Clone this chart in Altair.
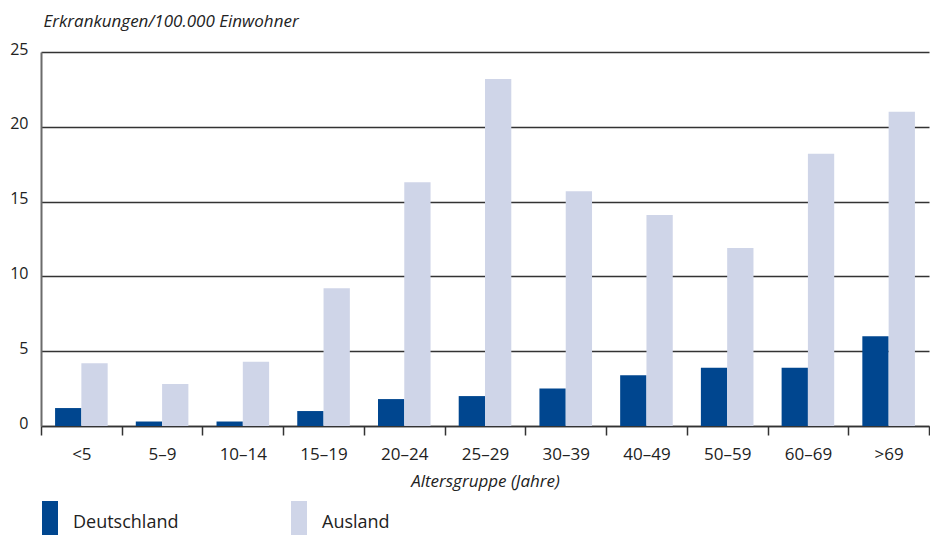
import altair as alt
import pandas as pd

groups = ["<5", "5–9", "10–14", "15–19", "20–24", "25–29", "30–39", "40–49", "50–59", "60–69", ">69"]
deutschland = [1.2, 0.3, 0.3, 1.0, 1.8, 2.0, 2.5, 3.4, 3.9, 3.9, 6.0]
ausland = [4.2, 2.8, 4.3, 9.2, 16.3, 23.2, 15.7, 14.1, 11.9, 18.2, 21.0]
series = ["Deutschland", "Ausland"]
colors = ["#00468f", "#cfd5e8"]
y_ticks = [0, 5, 10, 15, 20, 25]

rows = []
for g, d, a in zip(groups, deutschland, ausland):
    rows.append({"Gruppe": g, "Herkunft": "Deutschland", "Wert": d})
    rows.append({"Gruppe": g, "Herkunft": "Ausland", "Wert": a})
df = pd.DataFrame(rows)

FONT = "Open Sans"

chart = alt.Chart(df).mark_bar().encode(
    x=alt.X(
        "Gruppe:N", sort=groups,
        scale=alt.Scale(paddingInner=0, paddingOuter=0),
        axis=alt.Axis(
            title="Altersgruppe (Jahre)", tickBand="extent", labelAngle=0, grid=False,
            domainColor="#333333", domainWidth=1.5, tickColor="#333333", tickWidth=1.5,
            tickSize=9, labelPadding=11, labelFontSize=17, labelColor="#222222",
            labelFont=FONT, titleFont=FONT, titleFontSize=17, titleFontStyle="italic",
            titleFontWeight="normal", titleColor="#222222", titlePadding=11,
        ),
    ),
    xOffset=alt.XOffset("Herkunft:N", sort=series,
                        scale=alt.Scale(paddingInner=0, paddingOuter=0.535)),
    y=alt.Y(
        "Wert:Q", scale=alt.Scale(domain=[0, 25], nice=False),
        axis=alt.Axis(
            values=y_ticks, title="Erkrankungen/100.000 Einwohner", titleAngle=0,
            titleAlign="left", titleBaseline="alphabetic", titleX=2, titleY=-26,
            titleFont=FONT, titleFontSize=17, titleFontStyle="italic",
            titleFontWeight="normal", titleColor="#222222",
            grid=True, gridColor="#333333", gridWidth=1.3, ticks=False,
            domainColor="#6b6b6b", domainWidth=2, labelPadding=13,
            labelFont=FONT, labelFontSize=16, labelColor="#222222", labelOffset=-3,
            minExtent=33, maxExtent=33,
        ),
    ),
    color=alt.Color(
        "Herkunft:N", sort=series,
        scale=alt.Scale(domain=series, range=colors),
        legend=alt.Legend(
            title=None, orient="none", legendX=-13, legendY=449, direction="horizontal",
            columns=2, columnPadding=98, symbolType="M-0.364,-1V1H0.364V-1Z",
            symbolSize=1936, symbolStrokeWidth=0, symbolOpacity=1, labelOffset=1,
            labelFont=FONT, labelFontSize=18, labelColor="#222222", labelBaseline="middle",
            padding=0,
        ),
    ),
).properties(
    width=888, height=374,
    padding={"left": 0, "top": 4, "right": 0, "bottom": 0},
).configure_view(stroke=None)

chart.save("out.html", embed_options={"renderer": "svg", "actions": False})
